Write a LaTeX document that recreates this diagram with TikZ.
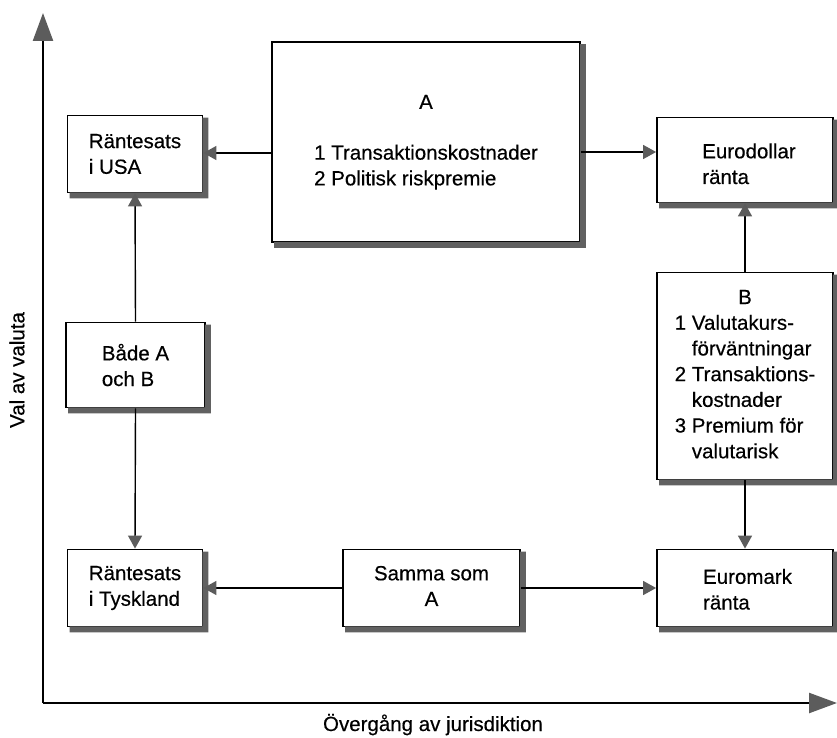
\documentclass[tikz,border=0pt]{standalone}
\usepackage{fontspec}
\setmainfont{Liberation Sans}
\usetikzlibrary{arrows.meta,calc}

\definecolor{shadowgray}{gray}{0.38}
\definecolor{tipgray}{gray}{0.36}
\newcommand\boxfont{\fontsize{20.5}{25.7}\selectfont\addfontfeature{FakeBold=0.4}}

% grey drop shadow along the right and bottom edges of a box
\newcommand\dropshadow[1]{%
  \fill[fill=shadowgray] ($(#1.north east)+(-1,3)$) -- ++(6,0)
    -- ($(#1.south east)+(5,5)$) -- ($(#1.south west)+(3,5)$)
    -- ($(#1.south west)+(3,-1)$) -- ($(#1.south east)+(-1,-1)$) -- cycle;}

\tikzset{
  box/.style={draw=black, line width=1.8pt, fill=white, inner sep=0pt,
    font=\boxfont, align=left},
  conn/.style={line width=1.4pt, -{Triangle[length=13pt,width=14pt,color=tipgray]}},
  axis/.style={line width=2.4pt, -{Triangle[length=28pt,width=20pt,color=tipgray]}},
  lbl/.style={font=\boxfont, inner sep=0pt},
}

\begin{document}
\begin{tikzpicture}[x=1pt,y=-1pt]
\useasboundingbox (0,0) rectangle (837,738);

% axes
\coordinate (origin) at (43,703);
\coordinate (ytop) at (43,13);
\coordinate (xend) at (837,703);
\draw[axis] (origin) -- (ytop);
\draw[axis] (origin) -- (xend);
\node[lbl, rotate=90] (ylab) at (17,370) {Val av valuta};
\node[lbl, anchor=base] (xlab) at (433,731) {Övergång av jurisdiktion};

% boxes
\node[box, minimum width=135, minimum height=77] (usa) at (135,154)
  {Räntesats\\i USA};
\node[box, minimum width=308, minimum height=200] (A) at (426,142)
  {\begin{tabular}{@{}l@{}}\multicolumn{1}{@{}c@{}}{A}\\[25pt]
   1 Transaktionskostnader\\2 Politisk riskpremie\end{tabular}};
\node[box, minimum width=176, minimum height=85] (euro) at (745,160)
  {\hspace*{8pt}\begin{tabular}{@{}l@{}}\rule{0pt}{30pt}Eurodollar\\ränta\end{tabular}};
\node[box, minimum width=176, minimum height=207] (B) at (745,376)
  {\begin{tabular}{@{}l@{}}\multicolumn{1}{@{}c@{}}{B}\\
   1 Valutakurs-\\\hphantom{1 }förväntningar\\
   2 Transaktions-\\\hphantom{1 }kostnader\\
   3 Premium för\\\hphantom{1 }valutarisk\end{tabular}};
\node[box, minimum width=139, minimum height=85] (bade) at (135.5,365)
  {Både A\\och B};
\node[box, minimum width=135, minimum height=77] (tysk) at (135,588)
  {Räntesats\\i Tyskland};
\node[box, minimum width=177, minimum height=77] (samma) at (431.5,588)
  {\begin{tabular}{@{}c@{}}Samma som\\A\end{tabular}};
\node[box, minimum width=176, minimum height=77] (emark) at (745,588)
  {\hspace*{5pt}\begin{tabular}{@{}l@{}}\rule{0pt}{25pt}Euromark\\ränta\end{tabular}};

\foreach \n in {usa,A,euro,B,bade,tysk,samma,emark}{\dropshadow{\n}}

% connectors
\draw[conn] ([yshift=-11pt]A.west) coordinate (aw) -- (aw -| usa.east);
\draw[conn] ([yshift=-10pt]A.east) coordinate (ae) -- (ae -| euro.west);
\draw[conn] (B.north) -- (euro.south);
\draw[conn] (B.south) -- (emark.north);
\draw[conn] (bade.north) -- (usa.south);
\draw[conn] (bade.south) -- (tysk.north);
\draw[conn] (samma.west) -- (tysk.east);
\draw[conn] (samma.east) -- (emark.west);
\end{tikzpicture}
\end{document}
